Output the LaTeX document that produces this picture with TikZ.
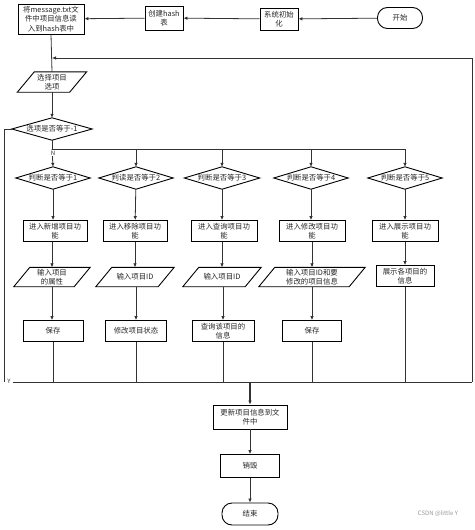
\documentclass[tikz,border=0pt]{standalone}
\usepackage{fontspec}
\setmainfont{Noto Sans CJK SC}
\usetikzlibrary{arrows.meta}
\tikzset{
  x=1pt, y=-1pt,
  base/.style={font=\fontsize{7.4}{9.4}\selectfont, align=center, inner sep=0pt, text=black!85},
  box/.style={base, draw, line width=0.9pt, minimum height=21},
  term/.style={base, draw, line width=0.9pt, rounded corners=10pt, minimum height=21},
  hid/.style={base, draw=none, minimum height=20},
  ln/.style={line width=0.8pt, draw=black!80},
  arr/.style={ln, -{Latex[length=4pt,width=3.6pt]}},
  lbl/.style={font=\fontsize{6}{7}\selectfont, inner sep=0.5pt, fill=white, text=black!80}
}
\begin{document}
\begin{tikzpicture}
\useasboundingbox (0,0) rectangle (474,530);
% top row
\node[term, minimum width=45] (start) at (400,18) {开始};
\node[box, minimum width=38, minimum height=22] (init) at (279,19) {系统初始\\化};
\node[box, minimum width=38, minimum height=24] (hash) at (164,18) {创建hash\\表};
\node[box, minimum width=66, minimum height=30] (load) at (51,19) {将message.txt文\\件中项目信息读\\入到hash表中};
% select
\node[hid, minimum width=52] (sel) at (52,82) {选择项目\\选项};
\node[hid, minimum width=80, minimum height=22] (d0) at (52,129) {选项是否等于-1};
% decision row
\node[hid, minimum width=74, minimum height=22] (d1) at (53,178) {判断是否等于1};
\node[hid, minimum width=74, minimum height=22] (d2) at (136,178) {判读是否等于2};
\node[hid, minimum width=75, minimum height=22] (d3) at (222,178) {判断是否等于3};
\node[hid, minimum width=74, minimum height=22] (d4) at (311,178) {判断是否等于4};
\node[hid, minimum width=74, minimum height=22] (d5) at (405,178) {判断是否等于5};
% function row
\node[box, minimum width=64] (f1) at (55,231) {进入新增项目功\\能};
\node[box, minimum width=64] (f2) at (135,231) {进入移除项目功\\能};
\node[box, minimum width=66] (f3) at (224,231) {进入查询项目功\\能};
\node[box, minimum width=66] (f4) at (312,231) {进入修改项目功\\能};
\node[box, minimum width=66] (f5) at (405,231) {进入展示项目功\\能};
% input row
\node[hid, minimum width=60, minimum height=19] (i1) at (52,277) {输入项目\\的属性};
\node[hid, minimum width=62, minimum height=19] (i2) at (135,277) {输入项目ID};
\node[hid, minimum width=62, minimum height=19] (i3) at (222,277) {输入项目ID};
\node[hid, minimum width=90, minimum height=19] (i4) at (312,277) {输入项目ID和要\\修改的项目信息};
\node[box, minimum width=58] (i5) at (405,276) {展示各项目的\\信息};
% action row
\node[box, minimum width=60] (s1) at (53,331) {保存};
\node[box, minimum width=61] (s2) at (136,331) {修改项目状态};
\node[box, minimum width=62] (s3) at (223,331) {查询该项目的\\信息};
\node[box, minimum width=59] (s4) at (312,331) {保存};
% bottom
\node[box, minimum width=74, minimum height=24] (upd) at (250,417) {更新项目信息到文\\件中};
\node[box, minimum width=59, minimum height=23] (des) at (250,466) {销毁};
\node[term, minimum width=56, minimum height=22] (end) at (250,514) {结束};
\node[font=\fontsize{6}{7}\selectfont, text=black!40, inner sep=0pt] (wm) at (438,514) {CSDN @little Y};

% diamonds and parallelograms
\foreach \n in {d0,d1,d2,d3,d4,d5}
  \draw[line width=0.9pt] (\n.west) -- (\n.north) -- (\n.east) -- (\n.south) -- cycle;
\draw[line width=0.9pt] ([xshift=8.5]sel.north west) -- ([xshift=8.5]sel.north east) -- ([xshift=-8.5]sel.south east) -- ([xshift=-8.5]sel.south west) -- cycle;
\foreach \n in {i1,i2,i3,i4}
  \draw[line width=0.9pt] ([xshift=8]\n.north west) -- ([xshift=8]\n.north east) -- ([xshift=-8]\n.south east) -- ([xshift=-8]\n.south west) -- cycle;

% coordinates
\coordinate (busL) at (4,382);
\coordinate (busR) at (472,382);
\coordinate (busM) at (250,382);
\coordinate (topR) at (472,58);
\coordinate (topL) at (52,58);
\coordinate (nb) at (52,149);
\coordinate (nbR) at (405,149);

% top row arrows
\draw[arr] (start) -- (init);
\draw[arr] (init) -- (hash);
\draw[arr] (hash) -- (load);
\draw[ln] (load.south) -- (sel.north);
\draw[arr] (busR) -- (topR) -- (topL);
\draw[arr] (sel.south) -- (d0.north);
% N branch
\draw[ln] (d0.south) -- (nb) -- (nbR);
\draw[arr] (nb) -- (d1.north);
\foreach \n in {d2,d3,d4,d5}
  \draw[arr] (nb -| \n.north) -- (\n.north);
\node[lbl] (nlab) at (53,153) {N};
% Y branch
\draw[ln] (d0.west) -- (4,129) -- (busL);
\node[lbl] (ylab) at (9,381) {Y};
% columns
\draw[arr] (d1.south) -- (d1.south |- f1.north);
\draw[arr] (d2) -- (f2);
\draw[arr] (d3.south) -- (d3.south |- f3.north);
\draw[arr] (d4.south) -- (d4.south |- f4.north);
\draw[arr] (d5) -- (f5);
\draw[arr] (f1.south -| i1.north) -- (i1.north);
\draw[arr] (f2) -- (i2);
\draw[arr] (f3.south -| i3.north) -- (i3.north);
\draw[arr] (f4) -- (i4);
\draw[arr] (f5) -- (i5);
\draw[arr] (i1.south) -- (i1.south |- s1.north);
\draw[arr] (i2.south -| s2.north) -- (s2.north);
\draw[arr] (i3.south -| s3.north) -- (s3.north);
\draw[arr] (i4) -- (s4);
% to bus
\foreach \n in {s1,s2,s3,s4,i5}
  \draw[ln] (\n.south) -- (\n.south |- busL);
\draw[ln] ([xshift=9]busL) -- (busR);
\draw[arr, line width=1.1pt] (busM) -- (upd.north);
\draw[arr] (upd) -- (des);
\draw[arr] (des) -- (end);
\end{tikzpicture}
\end{document}
